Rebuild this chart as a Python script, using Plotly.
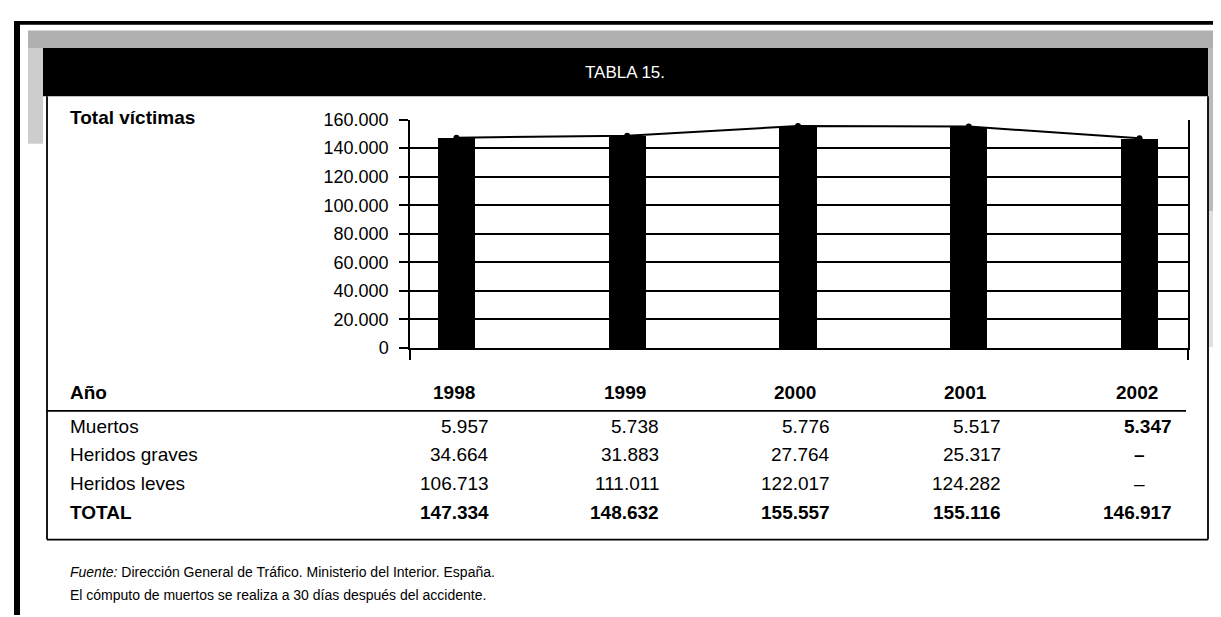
import plotly.graph_objects as go

# ---------------- data ----------------
years = ["1998", "1999", "2000", "2001", "2002"]
muertos = [5957, 5738, 5776, 5517, 5347]
heridos_graves = [34664, 31883, 27764, 25317, None]
heridos_leves = [106713, 111011, 122017, 124282, None]
total_victimas = [147334, 148632, 155557, 155116, 146917]
y_ticks = [0, 20000, 40000, 60000, 80000, 100000, 120000, 140000, 160000]

W, H = 1221, 617


def px(x):
    return x / W


def py(y):
    return 1 - y / H


def fmt(v):
    return f"{v:,}".replace(",", ".")


REG = "Liberation Sans, Arial, sans-serif"
NARROW = "Liberation Sans Narrow, Arial Narrow, Liberation Sans, sans-serif"

xs = list(range(len(years)))

fig = go.Figure()
fig.add_trace(go.Bar(x=xs, y=total_victimas, width=0.217,
                     marker=dict(color="black", line=dict(width=0)),
                     hoverinfo="skip", showlegend=False))
fig.add_trace(go.Scatter(x=xs, y=total_victimas, mode="lines+markers",
                         line=dict(color="black", width=2),
                         marker=dict(color="black", size=6),
                         hoverinfo="skip", showlegend=False))

x_lo, x_hi = -0.272, 4.284

fig.update_layout(
    width=W, height=H, autosize=False,
    margin=dict(l=0, r=0, t=0, b=0, pad=0),
    paper_bgcolor="white", plot_bgcolor="white",
    separators=",.",
    xaxis=dict(domain=[px(402), px(1180)], range=[x_lo, x_hi],
               showgrid=False, zeroline=False,
               showline=True, linecolor="black", linewidth=1.5,
               tickvals=[x_lo, x_hi], ticktext=["", ""],
               ticks="outside", ticklen=10, tickcolor="black", tickwidth=1.5,
               fixedrange=True),
    yaxis=dict(domain=[py(341), py(105)], range=[0, 160000],
               tickvals=y_ticks, tickformat=",d",
               showgrid=True, gridcolor="black", gridwidth=1.5,
               zeroline=False,
               showline=True, linecolor="black", linewidth=1.5, mirror=True,
               ticks="outside", ticklen=9, tickcolor="black", tickwidth=1.5,
               ticklabelstandoff=7,
               tickfont=dict(family=REG, size=18, color="black"),
               fixedrange=True),
    bargap=0,
)

shapes = []
# grey scanner texture bands
shapes.append(dict(type="rect", xref="paper", yref="paper",
                   x0=px(20), x1=px(1221), y0=py(31), y1=py(13),
                   fillcolor="#b0b0b0", line=dict(width=0), layer="below"))
shapes.append(dict(type="rect", xref="paper", yref="paper",
                   x0=px(20), x1=px(35), y0=py(130), y1=py(31),
                   fillcolor="#cdcdcd", line=dict(width=0), layer="below"))
shapes.append(dict(type="rect", xref="paper", yref="paper",
                   x0=px(1200), x1=px(1221), y0=py(200), y1=py(31),
                   fillcolor="#bababa", line=dict(width=0), layer="below"))
shapes.append(dict(type="rect", xref="paper", yref="paper",
                   x0=px(1200), x1=px(1221), y0=py(340), y1=py(200),
                   fillcolor="#e0e0e0", line=dict(width=0), layer="below"))
# outer frame
shapes.append(dict(type="rect", xref="paper", yref="paper",
                   x0=px(6), x1=px(12), y0=0, y1=py(3),
                   fillcolor="black", line=dict(width=0)))
shapes.append(dict(type="rect", xref="paper", yref="paper",
                   x0=px(6), x1=1, y0=py(7), y1=py(3),
                   fillcolor="black", line=dict(width=0)))
# black header bar
shapes.append(dict(type="rect", xref="paper", yref="paper",
                   x0=px(35), x1=px(1200), y0=py(81), y1=py(31),
                   fillcolor="black", line=dict(width=0)))
# white box border
for (x0, y0, x1, y1) in [(39, 81, 39, 539), (1200, 81, 1200, 539), (39, 539, 1200, 539)]:
    shapes.append(dict(type="line", xref="paper", yref="paper",
                       x0=px(x0), y0=py(y0), x1=px(x1), y1=py(y1),
                       line=dict(color="black", width=1.8)))
# table header underline
shapes.append(dict(type="line", xref="paper", yref="paper",
                   x0=px(39), y0=py(406), x1=px(1178), y1=py(406),
                   line=dict(color="black", width=1.8)))
fig.update_layout(shapes=shapes)

FS = 19
ann = []
ann.append(dict(text="TABLA 15.", xref="paper", yref="paper",
                x=px(617), y=py(56), xanchor="center", yanchor="middle",
                showarrow=False, font=dict(family=NARROW, size=17, color="white")))
ann.append(dict(text="<b>Total víctimas</b>", xref="paper", yref="paper",
                x=px(60), y=py(103), xanchor="left", yanchor="middle",
                showarrow=False, font=dict(family=REG, size=FS, color="black")))

row_y = {"head": 387, "m": 422, "g": 451, "l": 481, "t": 511}
labels = [("head", "<b>Año</b>"), ("m", "Muertos"), ("g", "Heridos graves"),
          ("l", "Heridos leves"), ("t", "<b>TOTAL</b>")]
for key, lab in labels:
    ann.append(dict(text=lab, xref="paper", yref="paper",
                    x=px(60), y=py(row_y[key]), xanchor="left", yanchor="middle",
                    showarrow=False, font=dict(family=REG, size=FS, color="black")))

val_off = 0.2
year_off = 0.12
for i, yr in enumerate(years):
    ann.append(dict(text=f"<b>{yr}</b>", xref="x", yref="paper",
                    x=i + year_off, y=py(row_y["head"]), xanchor="right", yanchor="middle",
                    showarrow=False, font=dict(family=REG, size=FS, color="black")))
    last = (i == len(years) - 1)
    rows = [("m", muertos[i], last), ("g", heridos_graves[i], False),
            ("l", heridos_leves[i], False), ("t", total_victimas[i], True)]
    for key, v, bold in rows:
        if v is None:
            ann.append(dict(text="<b>–</b>" if key == "g" else "–", xref="x", yref="paper",
                            x=i, y=py(row_y[key]), xanchor="center", yanchor="middle",
                            showarrow=False, font=dict(family=REG, size=FS, color="black")))
            continue
        txt = f"<b>{fmt(v)}</b>" if bold else fmt(v)
        ann.append(dict(text=txt, xref="x", yref="paper",
                        x=i + val_off, y=py(row_y[key]), xanchor="right", yanchor="middle",
                        showarrow=False,
                        font=dict(family=REG, size=FS, color="black")))

ann.append(dict(text="<i>Fuente:</i> Dirección General de Tráfico. Ministerio del Interior. España.",
                xref="paper", yref="paper", x=px(60), y=py(573), xanchor="left", yanchor="middle",
                showarrow=False, font=dict(family=REG, size=14, color="black")))
ann.append(dict(text="El cómputo de muertos se realiza a 30 días después del accidente.",
                xref="paper", yref="paper", x=px(60), y=py(596), xanchor="left", yanchor="middle",
                showarrow=False, font=dict(family=REG, size=14, color="black")))
fig.update_layout(annotations=ann)

fig.write_html("out.html")
